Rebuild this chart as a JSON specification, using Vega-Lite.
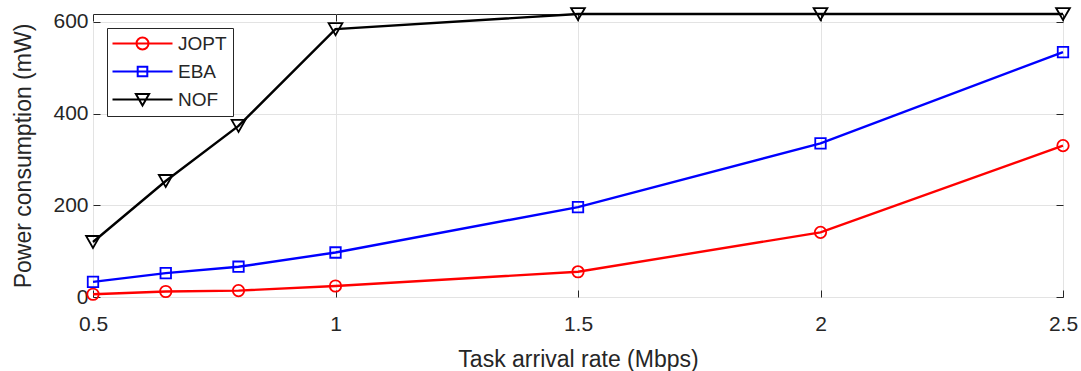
{
  "$schema": "https://vega.github.io/schema/vega-lite/v6.json",
  "width": 970,
  "height": 283,
  "autosize": "none",
  "padding": {"left": 93, "top": 14, "right": 18, "bottom": 74},
  "background": "white",
  "config": {
    "view": {"stroke": "#262626", "strokeWidth": 1},
    "font": "Liberation Sans",
    "axis": {
      "labelFont": "Liberation Sans",
      "titleFont": "Liberation Sans",
      "labelColor": "#262626",
      "titleColor": "#262626",
      "labelFontSize": 21,
      "titleFontSize": 23,
      "titleFontWeight": "normal",
      "domain": false,
      "tickColor": "#262626",
      "tickSize": -7,
      "gridColor": "#e3e3e3",
      "gridWidth": 1
    },
    "legend": {
      "labelFont": "Liberation Sans",
      "labelColor": "#262626"
    }
  },
  "data": {
    "values": [
      {"x": 0.5, "y": 6, "s": "JOPT"},
      {"x": 0.65, "y": 12, "s": "JOPT"},
      {"x": 0.8, "y": 14, "s": "JOPT"},
      {"x": 1.0, "y": 24, "s": "JOPT"},
      {"x": 1.5, "y": 55, "s": "JOPT"},
      {"x": 2.0, "y": 141, "s": "JOPT"},
      {"x": 2.5, "y": 330, "s": "JOPT"},
      {"x": 0.5, "y": 33, "s": "EBA"},
      {"x": 0.65, "y": 52, "s": "EBA"},
      {"x": 0.8, "y": 66, "s": "EBA"},
      {"x": 1.0, "y": 97, "s": "EBA"},
      {"x": 1.5, "y": 196, "s": "EBA"},
      {"x": 2.0, "y": 335, "s": "EBA"},
      {"x": 2.5, "y": 534, "s": "EBA"},
      {"x": 0.5, "y": 120, "s": "NOF"},
      {"x": 0.65, "y": 253, "s": "NOF"},
      {"x": 0.8, "y": 373, "s": "NOF"},
      {"x": 1.0, "y": 584, "s": "NOF"},
      {"x": 1.5, "y": 617, "s": "NOF"},
      {"x": 2.0, "y": 617, "s": "NOF"},
      {"x": 2.5, "y": 617, "s": "NOF"}
    ]
  },
  "layer": [
    {
      "mark": {"type": "line", "strokeWidth": 2.4, "clip": false},
      "encoding": {
        "x": {
          "field": "x", "type": "quantitative",
          "scale": {"domain": [0.5, 2.5], "nice": false, "zero": false},
          "axis": {"values": [0.5, 1, 1.5, 2, 2.5], "format": "~g", "title": "Task arrival rate (Mbps)", "labelPadding": 23, "titlePadding": 14, "labelFlush": false}
        },
        "y": {
          "field": "y", "type": "quantitative",
          "scale": {"domain": [0, 617], "nice": false, "zero": true},
          "axis": {"values": [0, 200, 400, 600], "title": "Power consumption (mW)", "labelPadding": 12, "titlePadding": 17}
        },
        "color": {
          "field": "s", "type": "nominal",
          "scale": {"domain": ["JOPT", "EBA", "NOF"], "range": ["#ff0000", "#0000ff", "#000000"]}
        }
      }
    },
    {
      "mark": {"type": "point", "filled": false, "strokeWidth": 1.8, "opacity": 1, "clip": false},
      "encoding": {
        "x": {"field": "x", "type": "quantitative", "axis": {"orient": "top", "labels": false, "title": null, "grid": false, "values": [0.5, 1, 1.5, 2, 2.5]}},
        "y": {"field": "y", "type": "quantitative", "axis": {"orient": "right", "labels": false, "title": null, "grid": false, "values": [0, 200, 400, 600]}},
        "color": {
          "field": "s", "type": "nominal",
          "scale": {"domain": ["JOPT", "EBA", "NOF"], "range": ["#ff0000", "#0000ff", "#000000"]}
        },
        "shape": {
          "condition": [
            {"test": "datum.s === 'JOPT'", "value": "circle"},
            {"test": "datum.s === 'EBA'", "value": "square"}
          ],
          "value": "triangle-down"
        },
        "size": {
          "condition": [
            {"test": "datum.s === 'JOPT'", "value": 130},
            {"test": "datum.s === 'EBA'", "value": 110}
          ],
          "value": 190
        }
      }
    },
    {
      "transform": [{"filter": "datum.y < 0"}],
      "mark": {"type": "point", "filled": false, "strokeWidth": 2, "clip": true},
      "encoding": {
        "x": {"field": "x", "type": "quantitative", "axis": null},
        "y": {"field": "y", "type": "quantitative", "axis": null},
        "color": {
          "field": "s", "type": "nominal",
          "scale": {"domain": ["JOPT", "EBA", "NOF"], "range": ["#ff0000", "#0000ff", "#000000"]},
          "legend": {
            "title": null,
            "orient": "top-left",
            "offset": 14,
            "padding": 6,
            "strokeColor": "#262626",
            "fillColor": "white",
            "labelFontSize": 19,
            "symbolSize": 144,
            "symbolStrokeWidth": 2,
            "symbolFillColor": "transparent",
            "symbolOffset": 20,
            "labelOffset": 26,
            "rowPadding": 8
          }
        },
        "shape": {
          "field": "s", "type": "nominal",
          "scale": {
            "domain": ["JOPT", "EBA", "NOF"],
            "range": ["M-5,0H5M1,0A1,1,0,1,1,-1,0A1,1,0,1,1,1,0", "M-5,0H5M-0.8,-0.8H0.8V0.8H-0.8Z", "M-5,0H5M-1.1,-0.9H1.1L0,1Z"]
          },
          "legend": {
            "title": null,
            "orient": "top-left",
            "offset": 14,
            "padding": 6,
            "strokeColor": "#262626",
            "fillColor": "white",
            "labelFontSize": 19,
            "symbolSize": 144,
            "symbolStrokeWidth": 2,
            "symbolFillColor": "transparent",
            "symbolOffset": 20,
            "labelOffset": 26,
            "rowPadding": 8
          }
        }
      }
    }
  ],
  "resolve": {"axis": {"x": "independent", "y": "independent"}}
}
